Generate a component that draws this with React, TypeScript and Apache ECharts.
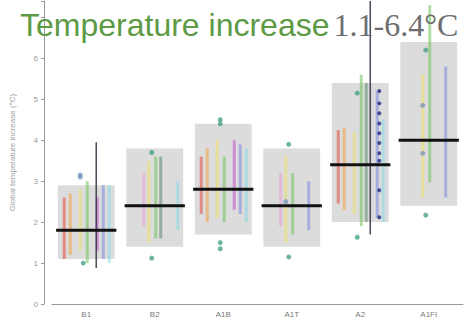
import { useEffect, useRef } from 'react';
import * as echarts from 'echarts';

const scenarios = ['B1', 'B2', 'A1B', 'A1T', 'A2', 'A1FI'];
const likelyLow = [1.1, 1.4, 1.7, 1.4, 2.0, 2.4];
const likelyHigh = [2.9, 3.8, 4.4, 3.8, 5.4, 6.4];
const bestEstimate = [1.8, 2.4, 2.8, 2.4, 3.4, 4.0];
const yTicks = [0, 1, 2, 3, 4, 5, 6];

type R = [number, number] | null;
const modelRed: R[] = [[1.1, 2.6], null, [2.2, 3.6], null, [2.45, 4.25], null];
const modelOrange: R[] = [[1.2, 2.7], null, [2.0, 3.8], null, [2.3, 4.3], null];
const modelPink: R[] = [null, [1.9, 3.2], null, [1.9, 3.2], null, null];
const modelYellow: R[] = [[1.3, 2.8], [1.5, 3.5], [2.1, 4.0], [1.5, 3.6], [2.2, 4.2], [2.6, 5.6]];
const modelGreen: R[] = [[1.0, 3.0], [1.6, 3.6], [2.0, 3.6], [1.7, 3.2], [1.9, 5.6], [2.97, 7.3]];
const modelTeal: R[] = [null, [1.6, 3.6], null, null, [2.0, 5.4], null];
const modelMagenta: R[] = [[1.3, 2.6], null, [2.3, 4.0], null, null, null];
const modelBlue: R[] = [[1.1, 2.9], null, [2.2, 3.9], [1.8, 3.0], [2.1, 5.2], [2.6, 5.8]];
const modelCyan: R[] = [[1.0, 2.9], [1.8, 3.0], [2.0, 3.8], null, [2.0, 4.5], null];
const aogcmRange: R[] = [[0.88, 3.95], null, null, null, [1.7, 7.4], null];

const extremeDots: [number, number][] = [
  [0, 1.0], [1, 3.7], [1, 1.12], [2, 4.5], [2, 4.4], [2, 1.5], [2, 1.35],
  [3, 3.9], [3, 1.15], [4, 5.15], [4, 1.63], [5, 6.2], [5, 2.17],
];
const a2Dots = [5.2, 4.9, 4.66, 4.41, 4.17, 3.93, 3.68, 3.5, 2.78, 2.12];
const midDots: [number, number][] = [[0, 3.15], [0, 3.1], [5, 4.85], [5, 3.68], [3, 2.5]];

const modelStyles = [
  { ranges: modelRed, color: '#e8372c', off: -22 },
  { ranges: modelOrange, color: '#f39a2c', off: -16 },
  { ranges: modelPink, color: '#e79ad8', off: -11 },
  { ranges: modelYellow, color: '#efe05a', off: -6 },
  { ranges: modelGreen, color: '#5fbf4a', off: 1 },
  { ranges: modelTeal, color: '#4f7f62', off: 6 },
  { ranges: modelMagenta, color: '#c040c8', off: 11 },
  { ranges: modelBlue, color: '#6f7fe0', off: 17 },
  { ranges: modelCyan, color: '#7fd8e8', off: 23 },
];

function rangeSeries(name: string, ranges: R[], color: string, off: number, width: number, opacity: number, z: number) {
  return {
    type: 'custom',
    name,
    z,
    data: ranges.map((r, i) => (r ? [i, r[0], r[1]] : null)).filter((d) => d !== null),
    encode: { x: 0, y: [1, 2] },
    renderItem: (_p: any, api: any) => {
      const i = api.value(0);
      const a = api.coord([i, api.value(1)]);
      const b = api.coord([i, api.value(2)]);
      const x = a[0] + off;
      return {
        type: 'line',
        shape: { x1: x, y1: a[1], x2: x, y2: b[1] },
        style: { stroke: color, lineWidth: width, opacity },
      };
    },
  };
}

export default function App() {
  const ref = useRef<HTMLDivElement>(null);
  useEffect(() => {
    if (!ref.current) return;
    const chart = echarts.init(ref.current, null, { renderer: 'svg' });
    const series: any[] = [];
    series.push({
      type: 'custom',
      name: 'likely range',
      z: 1,
      data: scenarios.map((_, i) => [i, likelyLow[i], likelyHigh[i]]),
      encode: { x: 0, y: [1, 2] },
      renderItem: (_p: any, api: any) => {
        const i = api.value(0);
        const a = api.coord([i, api.value(1)]);
        const b = api.coord([i, api.value(2)]);
        const w = api.size([1, 0])[0] * 0.83;
        return {
          type: 'rect',
          shape: { x: a[0] - w / 2, y: b[1], width: w, height: a[1] - b[1] },
          style: { fill: '#d6d6d6', opacity: 0.85 },
        };
      },
    });
    modelStyles.forEach((m, k) => series.push(rangeSeries('model' + k, m.ranges, m.color, m.off, 3, 0.5, 2)));
    series.push(rangeSeries('AOGCM', aogcmRange, '#333344', 10, 1.6, 0.85, 3));
    series.push({
      type: 'scatter',
      name: 'extremes',
      z: 4,
      data: extremeDots,
      symbolSize: 5,
      symbolOffset: [-3, 0],
      itemStyle: { color: '#3d9c80', opacity: 0.75 },
    });
    series.push({
      type: 'scatter',
      name: 'A2 points',
      z: 4,
      data: a2Dots.map((v) => [4, v]),
      symbolSize: 4,
      symbolOffset: [19, 0],
      itemStyle: { color: '#2a3288', opacity: 0.85 },
    });
    series.push({
      type: 'scatter',
      name: 'mid points',
      z: 4,
      data: midDots,
      symbolSize: 5,
      symbolOffset: [-6, 0],
      itemStyle: { color: '#6c8cc0', opacity: 0.7 },
    });
    series.push({
      type: 'custom',
      name: 'best estimate',
      z: 5,
      data: scenarios.map((_, i) => [i, bestEstimate[i]]),
      encode: { x: 0, y: 1 },
      renderItem: (_p: any, api: any) => {
        const p = api.coord([api.value(0), api.value(1)]);
        const w = api.size([1, 0])[0] * 0.88;
        return {
          type: 'line',
          shape: { x1: p[0] - w / 2, y1: p[1], x2: p[0] + w / 2, y2: p[1] },
          style: { stroke: '#111111', lineWidth: 3 },
        };
      },
    });

    chart.setOption({
      animation: false,
      title: {
        text: '{a|Temperature increase}{b|1.1-6.4°C}',
        left: 15,
        top: 4,
        textStyle: {
          fontWeight: 'normal',
          rich: {
            a: { fontFamily: 'Liberation Sans', fontSize: 32, fontWeight: 'normal', color: '#5c9a44' },
            b: { fontFamily: 'Liberation Serif', fontSize: 32, fontWeight: 'normal', color: '#6e6e6e', padding: [0, 0, 0, 4] },
          },
        },
      },
      grid: { left: 52, right: 4, top: 1, bottom: 23 },
      xAxis: {
        type: 'category',
        data: scenarios,
        axisLine: { lineStyle: { color: '#999999' } },
        axisTick: { show: false },
        axisLabel: { fontSize: 8, color: '#7a7a7a', margin: 6, fontFamily: 'Liberation Sans' },
      },
      yAxis: {
        type: 'value',
        min: 0,
        max: 7.4,
        interval: 1,
        offset: 8,
        name: 'Global temperature increase (°C)',
        nameLocation: 'middle',
        nameGap: 28,
        nameTextStyle: { fontSize: 8, color: '#a0a0a0', fontFamily: 'Liberation Sans' },
        axisLine: { show: true, lineStyle: { color: '#999999' } },
        axisTick: { show: true, length: 3, lineStyle: { color: '#999999' } },
        splitLine: { show: false },
        axisLabel: {
          fontSize: 8,
          color: '#999999',
          margin: 6,
          fontFamily: 'Liberation Sans',
          formatter: (v: number) => (yTicks.includes(v) ? String(v) : ''),
        },
      },
      series,
    });
    return () => chart.dispose();
  }, []);
  return <div ref={ref} style={{ position: 'fixed', left: 0, top: 0, width: 467, height: 327, background: '#ffffff' }} />;
}
